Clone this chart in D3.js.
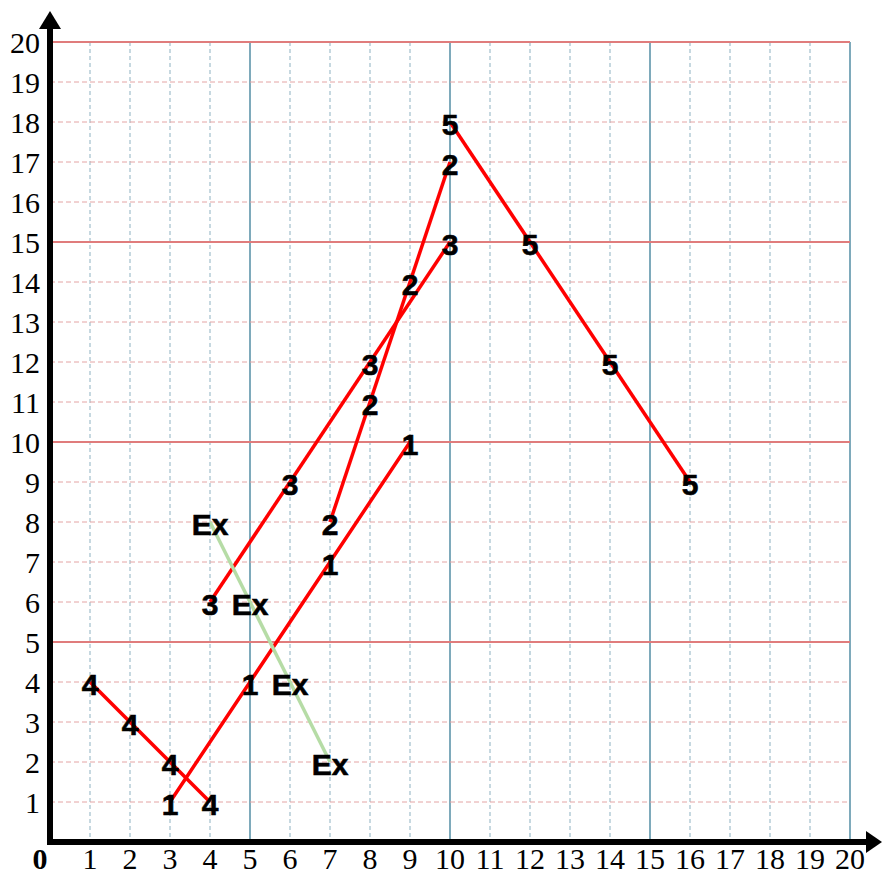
<!DOCTYPE html>
<html><head><meta charset="utf-8">
<script src="https://cdn.jsdelivr.net/npm/d3@7"></script>
<style>body{margin:0;background:#fff}svg{display:block}</style>
</head><body>
<svg id="c" width="882" height="876"></svg>
<script>
const xTicks = d3.range(1, 21);
const yTicks = d3.range(1, 21);
const series1 = [[3,1],[5,4],[7,7],[9,10]];
const series2 = [[7,8],[8,11],[9,14],[10,17]];
const series3 = [[4,6],[6,9],[8,12],[10,15]];
const series4 = [[1,4],[2,3],[3,2],[4,1]];
const series5 = [[10,18],[12,15],[14,12],[16,9]];
const seriesEx = [[4,8],[5,6],[6,4],[7,2]];
const seriesNames = ["1","2","3","4","5","Ex"];
const allSeries = [series1, series2, series3, series4, series5, seriesEx];

const svg = d3.select("#c");
const x = d3.scaleLinear().domain([0,20]).range([50,850]);
const y = d3.scaleLinear().domain([0,20]).range([842,42]);

// grid
const g = svg.append("g");
xTicks.forEach(t => {
  const major = t % 5 === 0;
  g.append("line").attr("x1", x(t)).attr("x2", x(t)).attr("y1", y(20)).attr("y2", y(0))
    .attr("stroke", major ? "#7eaabb" : "#b4ccd6")
    .attr("stroke-width", major ? 2 : 1.5)
    .attr("stroke-dasharray", major ? null : "4,3");
});
yTicks.forEach(t => {
  const major = t % 5 === 0;
  g.append("line").attr("x1", x(0)).attr("x2", x(20)).attr("y1", y(t)).attr("y2", y(t))
    .attr("stroke", major ? "#e07c7c" : "#e4a4a4")
    .attr("stroke-width", major ? 2 : 1)
    .attr("stroke-dasharray", major ? null : "5,3");
});

// series lines
const line = d3.line().x(d => x(d[0])).y(d => y(d[1]));
allSeries.forEach((s, i) => {
  svg.append("path").attr("d", line(s)).attr("fill", "none")
    .attr("stroke", seriesNames[i] === "Ex" ? "#b6dca6" : "#ff0000")
    .attr("stroke-width", 3.5);
});

// axes
svg.append("line").attr("x1", x(0)).attr("x2", x(0)).attr("y1", y(0) + 3).attr("y2", 28)
  .attr("stroke", "#000").attr("stroke-width", 6);
svg.append("path").attr("d", `M${x(0)},11 L${x(0)-11},29 L${x(0)+11},29 Z`).attr("fill", "#000");
svg.append("line").attr("x1", x(0) - 3).attr("x2", 868).attr("y1", y(0)).attr("y2", y(0))
  .attr("stroke", "#000").attr("stroke-width", 6);
svg.append("path").attr("d", `M882,${y(0)} L866,${y(0)-11} L866,${y(0)+11} Z`).attr("fill", "#000");

// tick labels
const tf = "'Liberation Serif','Times New Roman',serif";
xTicks.forEach(t => {
  svg.append("text").attr("x", x(t)).attr("y", 869).attr("text-anchor", "middle")
    .attr("font-family", tf).attr("font-size", 30).text(t);
});
yTicks.forEach(t => {
  svg.append("text").attr("x", 40).attr("y", y(t) + 10.5).attr("text-anchor", "end")
    .attr("font-family", tf).attr("font-size", 30).text(t);
});
svg.append("text").attr("x", 40).attr("y", 869).attr("text-anchor", "middle")
  .attr("font-family", tf).attr("font-size", 30).attr("font-weight", "bold").text("0");

// point labels
allSeries.forEach((s, i) => {
  s.forEach(p => {
    svg.append("text").attr("x", x(p[0])).attr("y", y(p[1]) + 13)
      .attr("text-anchor", "middle")
      .attr("font-family", "'Liberation Sans',Arial,sans-serif")
      .attr("font-weight", "bold").attr("font-size", 30).attr("fill", "#000")
      .attr("stroke", "#000").attr("stroke-width", 0.6)
      .text(seriesNames[i]);
  });
});
</script>
</body></html>
